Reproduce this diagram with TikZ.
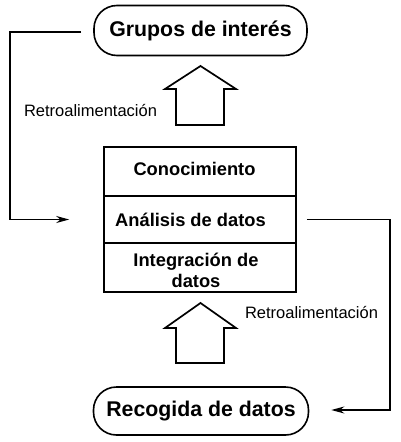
\documentclass[tikz,border=0pt]{standalone}
\usepackage{fontspec}
\setmainfont{Liberation Sans}
\usetikzlibrary{arrows.meta,calc}
\begin{document}
\begin{tikzpicture}[x=1pt,y=-1pt,
  line width=1.6pt,
  capsule/.style={draw,rounded corners=23pt,minimum width=213pt,minimum height=50pt,inner sep=0pt,font=\bfseries\fontsize{21.3}{24}\selectfont},
  cell/.style={draw,minimum width=192pt,inner sep=0pt},
  celltext/.style={font=\bfseries\fontsize{18.3}{21}\selectfont,align=center,inner sep=0pt},
  fb/.style={font=\fontsize{16.5}{19}\selectfont,inner sep=0pt},
  conn/.style={-{Stealth[length=13pt,width=7pt]},line width=1.6pt},
  blockarrow/.style={draw,line width=1.7pt,line join=miter}]
\useasboundingbox (0,0) rectangle (400,442);
% top capsule
\node[capsule] (grupos) at (200.5,30.5) {Grupos de interés};
% main box cells
\node[cell,minimum height=49pt] (c1) at (200,171.5) {};
\node[cell,minimum height=47pt] (c2) at (200,219.5) {};
\node[cell,minimum height=49pt] (c3) at (200,267.5) {};
\node[celltext] (t1) at (194.5,169) {Conocimiento};
\node[celltext] (t2) at (190.5,219.5) {Análisis de datos};
\node[celltext,text depth=0pt] (t3) at (196,270) {Integración de\\datos};
% bottom capsule
\node[capsule,minimum width=215pt,minimum height=48pt] (recogida) at (201,411) {Recogida de datos};
% feedback labels
\node[fb] (fbl) at (90.5,111) {Retroalimentación};
\node[fb] (fbr) at (311.5,313) {Retroalimentación};
% block arrows
\draw[blockarrow] (176,125) -- (176,89) -- (165,89) -- (200.5,66) -- (236,89) -- (224,89) -- (224,125) -- cycle;
\draw[blockarrow] (176,363) -- (176,328) -- (165,328) -- (200.5,303) -- (236,328) -- (224,328) -- (224,363) -- cycle;
% connectors
\coordinate (l1) at ($(grupos.west)+(-12,1.5)$);
\coordinate (l2) at ($(c2.west)+(-34,0)$);
\draw[conn] (l1) -- (10,32) -- (10,219.5) -- (l2);
\coordinate (r1) at ($(c2.east)+(10,0)$);
\coordinate (r2) at ($(recogida.east)+(22,-1)$);
\draw[conn] (r1) -- (390,219.5) -- (390,410) -- (r2);
\end{tikzpicture}
\end{document}
